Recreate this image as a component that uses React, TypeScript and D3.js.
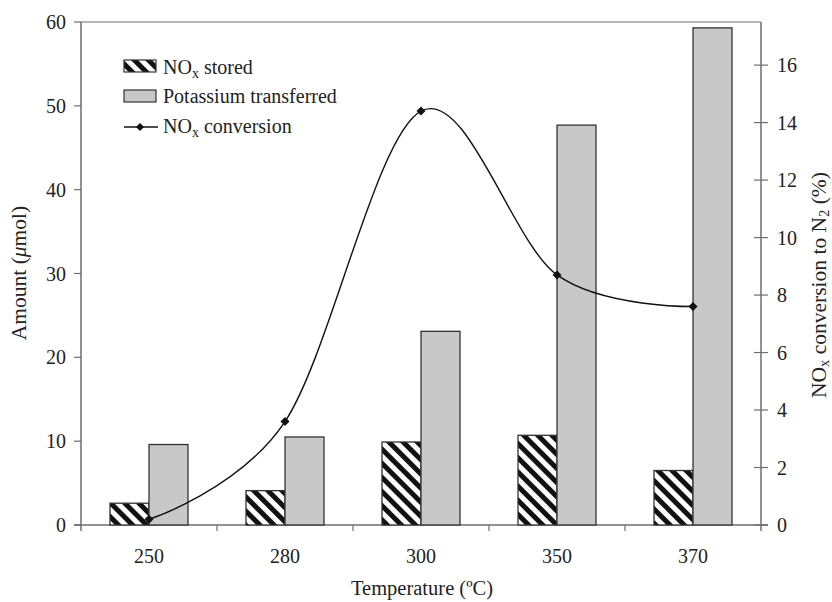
import React from "react";
import * as d3 from "d3";

const temperatures = ["250", "280", "300", "350", "370"];
const noxStored = [2.6, 4.1, 9.9, 10.7, 6.5];
const potassiumTransferred = [9.6, 10.5, 23.1, 47.7, 59.3];
const noxConversion = [0.2, 3.6, 14.4, 8.7, 7.6];
const leftTicks = [0, 10, 20, 30, 40, 50, 60];
const rightTicks = [0, 2, 4, 6, 8, 10, 12, 14, 16];

const W = 832;
const H = 602;
const M = { left: 81, right: 761, top: 22, bottom: 525 };
const FONT = "Liberation Serif";
const AXIS = "#6e6e6e";
const TXT = "#222";

export default function App() {
  const x = d3.scaleBand<string>().domain(temperatures).range([M.left, M.right]).paddingInner(0).paddingOuter(0);
  const yL = d3.scaleLinear().domain([0, 60]).range([M.bottom, M.top]);
  const yR = d3.scaleLinear().domain([0, 17.5]).range([M.bottom, M.top]);
  const barW = 39;
  const cx = (t: string) => (x(t) as number) + x.bandwidth() / 2;

  const line = d3
    .line<number>()
    .x((_, i) => cx(temperatures[i]))
    .y((v) => yR(v))
    .curve(d3.curveCatmullRom.alpha(0));

  const diamond = (px: number, py: number, r = 4.5) =>
    `M${px},${py - r}L${px + r},${py}L${px},${py + r}L${px - r},${py}Z`;

  return (
    <svg width={W} height={H} style={{ position: "absolute", left: 0, top: 0, background: "#fff" }}>
      <defs>
        <pattern id="hatch" patternUnits="userSpaceOnUse" width="10" height="10" patternTransform="rotate(-45)">
          <rect width="10" height="10" fill="#fff" />
          <rect x="0" y="0" width="5" height="10" fill="#111" />
        </pattern>
      </defs>

      {/* frame */}
      <line x1={M.left} x2={M.right} y1={M.top} y2={M.top} stroke={AXIS} strokeWidth={1.2} />
      <line x1={M.left} x2={M.left} y1={M.top} y2={M.bottom + 6} stroke={AXIS} strokeWidth={1.5} />
      <line x1={M.right} x2={M.right} y1={M.top} y2={M.bottom + 6} stroke={AXIS} strokeWidth={1.5} />
      <line x1={M.left - 7} x2={M.right + 7} y1={M.bottom} y2={M.bottom} stroke={AXIS} strokeWidth={1.5} />

      {/* left axis */}
      {leftTicks.map((t) => (
        <g key={"l" + t}>
          <line x1={M.left - 7} x2={M.left} y1={yL(t)} y2={yL(t)} stroke={AXIS} strokeWidth={1.2} />
          <text x={66} y={yL(t) + 7} textAnchor="end" fontFamily={FONT} fontSize={20} fill={TXT}>
            {t}
          </text>
        </g>
      ))}

      {/* right axis */}
      {rightTicks.map((t) => (
        <g key={"r" + t}>
          <line x1={M.right - 7} x2={M.right + 7} y1={yR(t)} y2={yR(t)} stroke={AXIS} strokeWidth={1.2} />
          <text x={777} y={yR(t) + 7} textAnchor="start" fontFamily={FONT} fontSize={20} fill={TXT}>
            {t}
          </text>
        </g>
      ))}

      {/* x axis category separators and labels */}
      {temperatures.map((t, i) => (
        <g key={"x" + t}>
          {i > 0 && (
            <line x1={x(t) as number} x2={x(t) as number} y1={M.bottom} y2={M.bottom + 6} stroke={AXIS} strokeWidth={1.2} />
          )}
          <text x={cx(t)} y={563} textAnchor="middle" fontFamily={FONT} fontSize={20} fill={TXT}>
            {t}
          </text>
        </g>
      ))}

      {/* bars */}
      {temperatures.map((t, i) => (
        <g key={"b" + t}>
          <rect
            x={cx(t) - barW}
            y={yL(noxStored[i])}
            width={barW}
            height={yL(0) - yL(noxStored[i])}
            fill="url(#hatch)"
            stroke="#333"
            strokeWidth={1.3}
          />
          <rect
            x={cx(t)}
            y={yL(potassiumTransferred[i])}
            width={barW}
            height={yL(0) - yL(potassiumTransferred[i])}
            fill="#c8c8c8"
            stroke="#333"
            strokeWidth={1.3}
          />
        </g>
      ))}

      {/* conversion line */}
      <path d={line(noxConversion) || ""} fill="none" stroke="#111" strokeWidth={1.4} />
      {noxConversion.map((v, i) => (
        <path key={"m" + i} d={diamond(cx(temperatures[i]), yR(v))} fill="#111" />
      ))}

      {/* legend */}
      <rect x={124} y={60} width={32} height={12} fill="url(#hatch)" stroke="#333" strokeWidth={1.2} />
      <text x={163} y={74} fontFamily={FONT} fontSize={20} fill={TXT}>
        NO<tspan fontSize={14} dy={4}>x</tspan>
        <tspan dy={-4}> stored</tspan>
      </text>
      <rect x={124} y={90} width={32} height={12} fill="#c8c8c8" stroke="#333" strokeWidth={1.2} />
      <text x={163} y={103} fontFamily={FONT} fontSize={20} fill={TXT}>
        Potassium transferred
      </text>
      <line x1={124} x2={158} y1={127} y2={127} stroke="#111" strokeWidth={1.4} />
      <path d={diamond(140, 127, 4)} fill="#111" />
      <text x={163} y={133} fontFamily={FONT} fontSize={20} fill={TXT}>
        NO<tspan fontSize={14} dy={4}>x</tspan>
        <tspan dy={-4}> conversion</tspan>
      </text>

      {/* axis titles */}
      <text x={422} y={595} textAnchor="middle" fontFamily={FONT} fontSize={20.5} fill={TXT}>
        Temperature (ºC)
      </text>
      <text
        transform={`translate(26,${273}) rotate(-90)`}
        textAnchor="middle"
        fontFamily={FONT}
        fontSize={21.5}
        fill={TXT}
      >
        Amount (<tspan fontStyle="italic">μ</tspan>mol)
      </text>
      <text
        transform={`translate(826,${285}) rotate(-90)`}
        textAnchor="middle"
        fontFamily={FONT}
        fontSize={21.5}
        fill={TXT}
      >
        NO<tspan fontSize={14.5} dy={3}>x</tspan>
        <tspan dy={-3}> conversion to N</tspan>
        <tspan fontSize={14.5} dy={3}>2</tspan>
        <tspan dy={-3}> (%)</tspan>
      </text>
    </svg>
  );
}
